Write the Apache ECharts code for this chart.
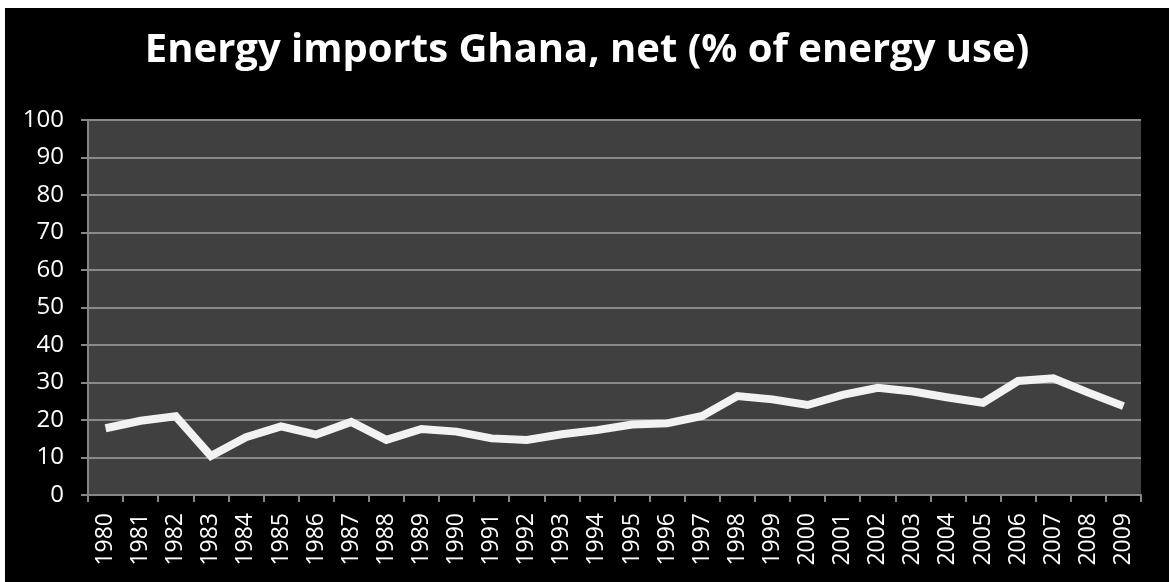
<!DOCTYPE html>
<html>
<head>
<meta charset="utf-8">
<script src="https://cdn.jsdelivr.net/npm/echarts@6/dist/echarts.min.js"></script>
<style>
html,body{margin:0;padding:0;background:#fff;width:1170px;height:582px;overflow:hidden;}
#chart{position:absolute;left:5px;top:8px;width:1164px;height:574px;background:#000;}
</style>
</head>
<body>
<div id="chart"></div>
<script>
const titleText = "Energy imports Ghana, net (% of energy use)";
const years = ["1980","1981","1982","1983","1984","1985","1986","1987","1988","1989",
  "1990","1991","1992","1993","1994","1995","1996","1997","1998","1999",
  "2000","2001","2002","2003","2004","2005","2006","2007","2008","2009"];
const imports = [17.8,19.8,21.0,10.4,15.4,18.3,16.1,19.5,14.7,17.6,
  16.9,15.1,14.7,16.2,17.3,18.8,19.1,21.1,26.4,25.5,
  24.0,26.7,28.6,27.6,26.0,24.6,30.4,31.1,27.3,23.7];
const yTicks = {min:0, max:100, interval:10};

const chart = echarts.init(document.getElementById('chart'));
chart.setOption({
  backgroundColor:'#000',
  animation:false,
  title:{
    text:titleText, left:'center', top:18,
    textStyle:{color:'#fff', fontFamily:'Open Sans', fontWeight:'bold', fontSize:40}
  },
  grid:{left:83, top:112, right:28, bottom:87, show:true, backgroundColor:'#404040', borderWidth:0},
  xAxis:{
    type:'category', data:years, boundaryGap:true,
    axisLine:{lineStyle:{color:'#868686', width:2}},
    axisTick:{show:true, interval:0, length:7, lineStyle:{color:'#868686', width:2}},
    axisLabel:{color:'#fff', fontFamily:'Open Sans', fontSize:23, rotate:90, interval:0, margin:18},
    splitLine:{show:false}
  },
  yAxis:{
    type:'value', min:yTicks.min, max:yTicks.max, interval:yTicks.interval,
    axisLine:{show:true, lineStyle:{color:'#868686', width:2}},
    axisTick:{show:true, length:7, lineStyle:{color:'#868686', width:2}},
    axisLabel:{color:'#fff', fontFamily:'Open Sans', fontSize:24, margin:24},
    splitLine:{show:true, lineStyle:{color:'#8a8a8a', width:2}}
  },
  series:[{
    type:'line', data:imports, symbol:'none',
    lineStyle:{color:'#f2f2f2', width:8, join:'miter'}
  }]
});
</script>
</body>
</html>
